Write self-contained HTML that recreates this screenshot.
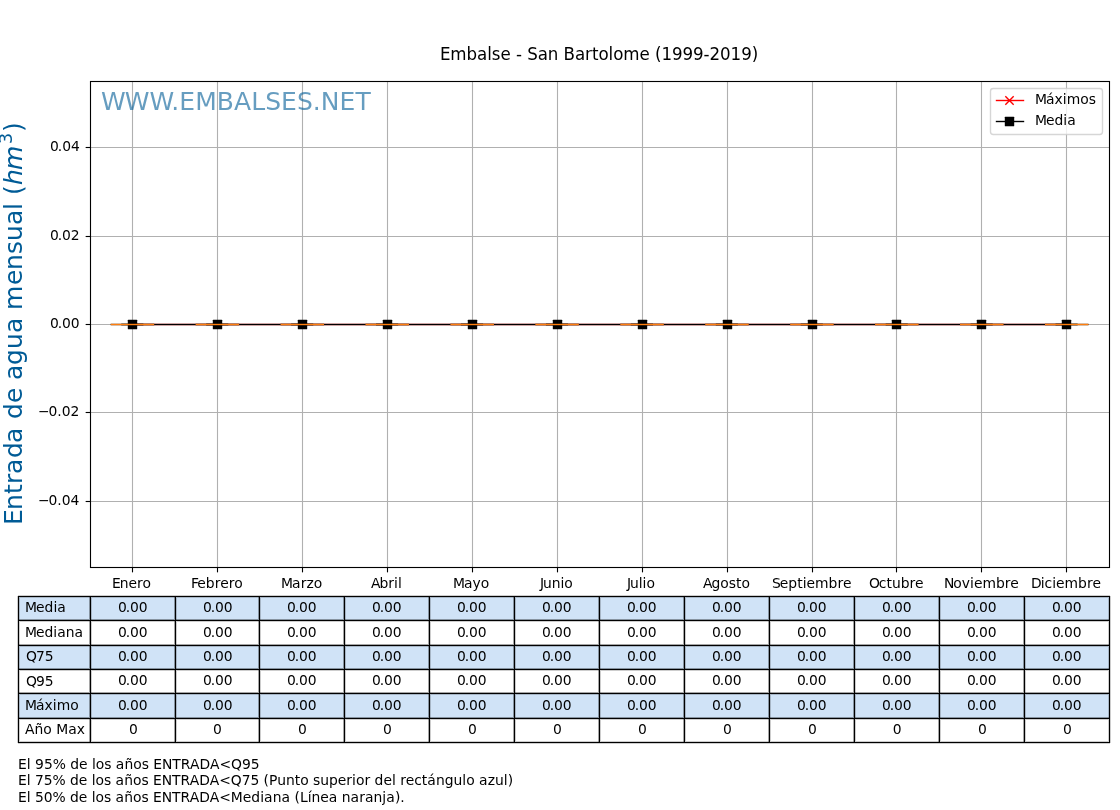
<!DOCTYPE html>
<html lang="es"><head><meta charset="utf-8"><title>Embalse - San Bartolome (1999-2019)</title>
<style>html,body{margin:0;padding:0;background:#fff;overflow:hidden}svg{display:block}text{font-family:"DejaVu Sans","Liberation Sans",sans-serif;fill:#000;white-space:pre}</style>
</head><body>
<svg width="1120" height="810" viewBox="0 0 1120 810">
<rect width="1120" height="810" fill="#fff"/>
<g stroke="#b0b0b0" stroke-width="1.11" fill="none">
<line x1="132.5" y1="81.5" x2="132.5" y2="567.5"/>
<line x1="217.5" y1="81.5" x2="217.5" y2="567.5"/>
<line x1="302.5" y1="81.5" x2="302.5" y2="567.5"/>
<line x1="387.5" y1="81.5" x2="387.5" y2="567.5"/>
<line x1="472.5" y1="81.5" x2="472.5" y2="567.5"/>
<line x1="557.5" y1="81.5" x2="557.5" y2="567.5"/>
<line x1="642.5" y1="81.5" x2="642.5" y2="567.5"/>
<line x1="727.5" y1="81.5" x2="727.5" y2="567.5"/>
<line x1="812.5" y1="81.5" x2="812.5" y2="567.5"/>
<line x1="896.5" y1="81.5" x2="896.5" y2="567.5"/>
<line x1="981.5" y1="81.5" x2="981.5" y2="567.5"/>
<line x1="1066.5" y1="81.5" x2="1066.5" y2="567.5"/>
<line x1="90.5" y1="147.5" x2="1109.5" y2="147.5"/>
<line x1="90.5" y1="236.5" x2="1109.5" y2="236.5"/>
<line x1="90.5" y1="324.5" x2="1109.5" y2="324.5"/>
<line x1="90.5" y1="412.5" x2="1109.5" y2="412.5"/>
<line x1="90.5" y1="501.5" x2="1109.5" y2="501.5"/>
</g>
<g stroke="#000" stroke-width="1.11" fill="none">
<line x1="132.5" y1="567.5" x2="132.5" y2="572.36"/>
<line x1="217.5" y1="567.5" x2="217.5" y2="572.36"/>
<line x1="302.5" y1="567.5" x2="302.5" y2="572.36"/>
<line x1="387.5" y1="567.5" x2="387.5" y2="572.36"/>
<line x1="472.5" y1="567.5" x2="472.5" y2="572.36"/>
<line x1="557.5" y1="567.5" x2="557.5" y2="572.36"/>
<line x1="642.5" y1="567.5" x2="642.5" y2="572.36"/>
<line x1="727.5" y1="567.5" x2="727.5" y2="572.36"/>
<line x1="812.5" y1="567.5" x2="812.5" y2="572.36"/>
<line x1="896.5" y1="567.5" x2="896.5" y2="572.36"/>
<line x1="981.5" y1="567.5" x2="981.5" y2="572.36"/>
<line x1="1066.5" y1="567.5" x2="1066.5" y2="572.36"/>
<line x1="90.5" y1="147.5" x2="85.64" y2="147.5"/>
<line x1="90.5" y1="236.5" x2="85.64" y2="236.5"/>
<line x1="90.5" y1="324.5" x2="85.64" y2="324.5"/>
<line x1="90.5" y1="412.5" x2="85.64" y2="412.5"/>
<line x1="90.5" y1="501.5" x2="85.64" y2="501.5"/>
</g>
<path d="M131.37 323h935.67v1h-935.67zM131.37 325h935.67v1h-935.67z" fill="#f00" fill-opacity="0.195"/>
<rect x="131.37" y="324" width="935.67" height="1" fill="#f00"/>
<path d="M131.37 323h935.67v1h-935.67zM131.37 325h935.67v1h-935.67z" fill="#000" fill-opacity="0.195"/>
<rect x="131.37" y="324" width="935.67" height="1" fill="#000"/>
<rect x="127.80" y="319.80" width="9.4" height="9.4" rx="0.5" fill="#000"/>
<rect x="212.80" y="319.80" width="9.4" height="9.4" rx="0.5" fill="#000"/>
<rect x="297.80" y="319.80" width="9.4" height="9.4" rx="0.5" fill="#000"/>
<rect x="382.80" y="319.80" width="9.4" height="9.4" rx="0.5" fill="#000"/>
<rect x="467.80" y="319.80" width="9.4" height="9.4" rx="0.5" fill="#000"/>
<rect x="552.80" y="319.80" width="9.4" height="9.4" rx="0.5" fill="#000"/>
<rect x="637.80" y="319.80" width="9.4" height="9.4" rx="0.5" fill="#000"/>
<rect x="722.80" y="319.80" width="9.4" height="9.4" rx="0.5" fill="#000"/>
<rect x="807.80" y="319.80" width="9.4" height="9.4" rx="0.5" fill="#000"/>
<rect x="891.80" y="319.80" width="9.4" height="9.4" rx="0.5" fill="#000"/>
<rect x="976.80" y="319.80" width="9.4" height="9.4" rx="0.5" fill="#000"/>
<rect x="1061.80" y="319.80" width="9.4" height="9.4" rx="0.5" fill="#000"/>
<path d="M110.68 323h43.52v1h-43.52zM110.68 325h43.52v1h-43.52z" fill="#000" fill-opacity="0.195"/>
<rect x="110.68" y="324" width="43.52" height="1" fill="#000"/>
<path d="M121.25 323h22.13v1h-22.13zM121.25 325h22.13v1h-22.13z" fill="#000" fill-opacity="0.352"/>
<rect x="121.25" y="324" width="22.13" height="1" fill="#000"/>
<path d="M195.62 323h43.52v1h-43.52zM195.62 325h43.52v1h-43.52z" fill="#000" fill-opacity="0.195"/>
<rect x="195.62" y="324" width="43.52" height="1" fill="#000"/>
<path d="M206.18 323h22.13v1h-22.13zM206.18 325h22.13v1h-22.13z" fill="#000" fill-opacity="0.352"/>
<rect x="206.18" y="324" width="22.13" height="1" fill="#000"/>
<path d="M280.55 323h43.52v1h-43.52zM280.55 325h43.52v1h-43.52z" fill="#000" fill-opacity="0.195"/>
<rect x="280.55" y="324" width="43.52" height="1" fill="#000"/>
<path d="M291.12 323h22.13v1h-22.13zM291.12 325h22.13v1h-22.13z" fill="#000" fill-opacity="0.352"/>
<rect x="291.12" y="324" width="22.13" height="1" fill="#000"/>
<path d="M365.48 323h43.52v1h-43.52zM365.48 325h43.52v1h-43.52z" fill="#000" fill-opacity="0.195"/>
<rect x="365.48" y="324" width="43.52" height="1" fill="#000"/>
<path d="M376.05 323h22.13v1h-22.13zM376.05 325h22.13v1h-22.13z" fill="#000" fill-opacity="0.352"/>
<rect x="376.05" y="324" width="22.13" height="1" fill="#000"/>
<path d="M450.42 323h43.52v1h-43.52zM450.42 325h43.52v1h-43.52z" fill="#000" fill-opacity="0.195"/>
<rect x="450.42" y="324" width="43.52" height="1" fill="#000"/>
<path d="M460.98 323h22.13v1h-22.13zM460.98 325h22.13v1h-22.13z" fill="#000" fill-opacity="0.352"/>
<rect x="460.98" y="324" width="22.13" height="1" fill="#000"/>
<path d="M535.35 323h43.52v1h-43.52zM535.35 325h43.52v1h-43.52z" fill="#000" fill-opacity="0.195"/>
<rect x="535.35" y="324" width="43.52" height="1" fill="#000"/>
<path d="M545.92 323h22.13v1h-22.13zM545.92 325h22.13v1h-22.13z" fill="#000" fill-opacity="0.352"/>
<rect x="545.92" y="324" width="22.13" height="1" fill="#000"/>
<path d="M620.28 323h43.52v1h-43.52zM620.28 325h43.52v1h-43.52z" fill="#000" fill-opacity="0.195"/>
<rect x="620.28" y="324" width="43.52" height="1" fill="#000"/>
<path d="M630.85 323h22.13v1h-22.13zM630.85 325h22.13v1h-22.13z" fill="#000" fill-opacity="0.352"/>
<rect x="630.85" y="324" width="22.13" height="1" fill="#000"/>
<path d="M705.22 323h43.52v1h-43.52zM705.22 325h43.52v1h-43.52z" fill="#000" fill-opacity="0.195"/>
<rect x="705.22" y="324" width="43.52" height="1" fill="#000"/>
<path d="M715.78 323h22.13v1h-22.13zM715.78 325h22.13v1h-22.13z" fill="#000" fill-opacity="0.352"/>
<rect x="715.78" y="324" width="22.13" height="1" fill="#000"/>
<path d="M790.15 323h43.52v1h-43.52zM790.15 325h43.52v1h-43.52z" fill="#000" fill-opacity="0.195"/>
<rect x="790.15" y="324" width="43.52" height="1" fill="#000"/>
<path d="M800.72 323h22.13v1h-22.13zM800.72 325h22.13v1h-22.13z" fill="#000" fill-opacity="0.352"/>
<rect x="800.72" y="324" width="22.13" height="1" fill="#000"/>
<path d="M875.08 323h43.52v1h-43.52zM875.08 325h43.52v1h-43.52z" fill="#000" fill-opacity="0.195"/>
<rect x="875.08" y="324" width="43.52" height="1" fill="#000"/>
<path d="M885.65 323h22.13v1h-22.13zM885.65 325h22.13v1h-22.13z" fill="#000" fill-opacity="0.352"/>
<rect x="885.65" y="324" width="22.13" height="1" fill="#000"/>
<path d="M960.02 323h43.52v1h-43.52zM960.02 325h43.52v1h-43.52z" fill="#000" fill-opacity="0.195"/>
<rect x="960.02" y="324" width="43.52" height="1" fill="#000"/>
<path d="M970.58 323h22.13v1h-22.13zM970.58 325h22.13v1h-22.13z" fill="#000" fill-opacity="0.352"/>
<rect x="970.58" y="324" width="22.13" height="1" fill="#000"/>
<path d="M1044.95 323h43.52v1h-43.52zM1044.95 325h43.52v1h-43.52z" fill="#000" fill-opacity="0.195"/>
<rect x="1044.95" y="324" width="43.52" height="1" fill="#000"/>
<path d="M1055.52 323h22.13v1h-22.13zM1055.52 325h22.13v1h-22.13z" fill="#000" fill-opacity="0.352"/>
<rect x="1055.52" y="324" width="22.13" height="1" fill="#000"/>
<path d="M110.68 323h43.52v1h-43.52zM110.68 325h43.52v1h-43.52z" fill="#ff7f0e" fill-opacity="0.195"/>
<rect x="110.68" y="324" width="43.52" height="1" fill="#ff7f0e"/>
<path d="M195.62 323h43.52v1h-43.52zM195.62 325h43.52v1h-43.52z" fill="#ff7f0e" fill-opacity="0.195"/>
<rect x="195.62" y="324" width="43.52" height="1" fill="#ff7f0e"/>
<path d="M280.55 323h43.52v1h-43.52zM280.55 325h43.52v1h-43.52z" fill="#ff7f0e" fill-opacity="0.195"/>
<rect x="280.55" y="324" width="43.52" height="1" fill="#ff7f0e"/>
<path d="M365.48 323h43.52v1h-43.52zM365.48 325h43.52v1h-43.52z" fill="#ff7f0e" fill-opacity="0.195"/>
<rect x="365.48" y="324" width="43.52" height="1" fill="#ff7f0e"/>
<path d="M450.42 323h43.52v1h-43.52zM450.42 325h43.52v1h-43.52z" fill="#ff7f0e" fill-opacity="0.195"/>
<rect x="450.42" y="324" width="43.52" height="1" fill="#ff7f0e"/>
<path d="M535.35 323h43.52v1h-43.52zM535.35 325h43.52v1h-43.52z" fill="#ff7f0e" fill-opacity="0.195"/>
<rect x="535.35" y="324" width="43.52" height="1" fill="#ff7f0e"/>
<path d="M620.28 323h43.52v1h-43.52zM620.28 325h43.52v1h-43.52z" fill="#ff7f0e" fill-opacity="0.195"/>
<rect x="620.28" y="324" width="43.52" height="1" fill="#ff7f0e"/>
<path d="M705.22 323h43.52v1h-43.52zM705.22 325h43.52v1h-43.52z" fill="#ff7f0e" fill-opacity="0.195"/>
<rect x="705.22" y="324" width="43.52" height="1" fill="#ff7f0e"/>
<path d="M790.15 323h43.52v1h-43.52zM790.15 325h43.52v1h-43.52z" fill="#ff7f0e" fill-opacity="0.195"/>
<rect x="790.15" y="324" width="43.52" height="1" fill="#ff7f0e"/>
<path d="M875.08 323h43.52v1h-43.52zM875.08 325h43.52v1h-43.52z" fill="#ff7f0e" fill-opacity="0.195"/>
<rect x="875.08" y="324" width="43.52" height="1" fill="#ff7f0e"/>
<path d="M960.02 323h43.52v1h-43.52zM960.02 325h43.52v1h-43.52z" fill="#ff7f0e" fill-opacity="0.195"/>
<rect x="960.02" y="324" width="43.52" height="1" fill="#ff7f0e"/>
<path d="M1044.95 323h43.52v1h-43.52zM1044.95 325h43.52v1h-43.52z" fill="#ff7f0e" fill-opacity="0.195"/>
<rect x="1044.95" y="324" width="43.52" height="1" fill="#ff7f0e"/>
<rect x="90.5" y="81.5" width="1019.0" height="486.0" fill="none" stroke="#000" stroke-width="1.11"/>
<text x="100.98 124.73 149.48 171.36 179.36 195.23 216.86 234.11 251.23 265.23 281.11 296.98 312.86 320.86 339.61 355.48" y="110" font-size="25" style="fill:#005b96;fill-opacity:0.6;">WWW.EMBALSES.NET</text>
<text x="439.95 450.32 466.57 477.07 487.2 491.82 500.57 510.82 516.07 521.95 527.2 537.7 547.82 558.32 563.57 574.95 585.07 591.95 598.45 608.57 613.2 623.32 639.57 649.82 655.07 661.45 672.07 682.57 693.07 703.57 709.45 720.07 730.57 741.2 751.7" y="60" font-size="16.667" transform="matrix(1 0 0 1.07 0 -4.200)">Embalse - San Bartolome (1999-2019)</text>
<text transform="translate(21.70 526.00) rotate(-90)" x="1 16 32 42 52 68 83 99 107 123 138 146 161 177 193 208 216 241 256 272 285 301 316 323 331 341 356 382 394" y="0" font-size="25" style="fill:#005b96">Entrada de agua mensual (<tspan font-style="italic">hm</tspan><tspan font-size="17.5" dy="-9.80">3</tspan><tspan dy="9.80">)</tspan></text>
<text x="50.01 57.76 62.13 70.88" y="151" font-size="13.889">0.04</text>
<text x="49.98 57.73 62.1 70.85" y="240" font-size="13.889">0.02</text>
<text x="49.95 57.7 62.07 70.82" y="328" font-size="13.889">0.00</text>
<text x="37.9 48.52 57.27 61.65 70.4" y="416" font-size="13.889">−0.02</text>
<text x="37.95 48.57 57.32 61.7 70.45" y="505" font-size="13.889">−0.04</text>
<text x="111.96 119.71 128.46 136.96 142.46" y="588" font-size="13.889">Enero</text>
<text x="191.01 197.26 205.76 214.64 220.14 228.64 234.14" y="588" font-size="13.889">Febrero</text>
<text x="281.02 292.02 300.65 306.4 313.77" y="588" font-size="13.889">Marzo</text>
<text x="370.98 379.48 388.35 394.1 397.98" y="588" font-size="13.889">Abril</text>
<text x="452.98 463.98 472.6 480.85" y="588" font-size="13.889">Mayo</text>
<text x="539.97 542.97 551.72 560.47 564.34" y="588" font-size="13.889">Junio</text>
<text x="626.98 629.98 638.73 642.61 646.48" y="588" font-size="13.889">Julio</text>
<text x="702.98 711.48 720.35 728.85 735.98 741.48" y="588" font-size="13.889">Agosto</text>
<text x="772.01 779.76 788.26 797.13 802.63 806.51 815.01 828.51 837.38 842.88" y="588" font-size="13.889">Septiembre</text>
<text x="869 878.87 886.5 892 900.75 909.62 915.12" y="588" font-size="13.889">Octubre</text>
<text x="943.97 953.34 961.84 970.09 973.97 982.47 995.97 1004.84 1010.34" y="588" font-size="13.889">Noviembre</text>
<text x="1030.95 1040.7 1044.57 1052.2 1056.07 1064.57 1078.07 1086.95 1092.45" y="588" font-size="13.889">Diciembre</text>
<rect x="990.5" y="88.5" width="112" height="46" rx="2.8" fill="#fff" fill-opacity="0.8" stroke="#ccc" stroke-opacity="0.8" stroke-width="1.39"/>
<path d="M995.80 99h28.40v1h-28.40zM995.80 101h28.40v1h-28.40z" fill="#f00" fill-opacity="0.195"/>
<rect x="995.80" y="100" width="28.40" height="1" fill="#f00"/>
<path d="M1005.33 96.33L1013.67 104.67M1005.33 104.67L1013.67 96.33" stroke="#f00" stroke-width="1.39" fill="none"/>
<text x="1034.98 1045.98 1054.61 1062.86 1066.73 1080.23 1088.73" y="104" font-size="13.889">Máximos</text>
<path d="M995.80 120h28.40v1h-28.40zM995.80 122h28.40v1h-28.40z" fill="#000" fill-opacity="0.195"/>
<rect x="995.80" y="121" width="28.40" height="1" fill="#000"/>
<rect x="1004.8" y="116.8" width="9.4" height="9.4" rx="0.5" fill="#000"/>
<text x="1034.99 1045.99 1054.49 1063.36 1067.24" y="125" font-size="13.889">Media</text>
<rect x="18" y="596" width="1092" height="24" fill="#d0e3f7"/>
<rect x="18" y="645" width="1092" height="24" fill="#d0e3f7"/>
<rect x="18" y="693" width="1092" height="25" fill="#d0e3f7"/>
<path d="M18 595h1092v1h-1092zM18 743h1092v1h-1092zM18 741h1092v1h-1092zM18 597h1092v1h-1092zM18 621h1092v1h-1092zM18 646h1092v1h-1092zM18 670h1092v1h-1092zM18 694h1092v1h-1092zM18 719h1092v1h-1092zM17 596h1v147h-1zM1110 596h1v147h-1zM1108 596h1v147h-1zM19 596h1v147h-1zM91 596h1v147h-1zM176 596h1v147h-1zM260 596h1v147h-1zM345 596h1v147h-1zM430 596h1v147h-1zM515 596h1v147h-1zM600 596h1v147h-1zM685 596h1v147h-1zM770 596h1v147h-1zM855 596h1v147h-1zM940 596h1v147h-1zM1025 596h1v147h-1z" fill="#000" fill-opacity="0.195"/>
<path d="M18 619h1092v1h-1092zM18 644h1092v1h-1092zM18 668h1092v1h-1092zM18 692h1092v1h-1092zM18 717h1092v1h-1092zM89 596h1v147h-1zM174 596h1v147h-1zM258 596h1v147h-1zM343 596h1v147h-1zM428 596h1v147h-1zM513 596h1v147h-1zM598 596h1v147h-1zM683 596h1v147h-1zM768 596h1v147h-1zM853 596h1v147h-1zM938 596h1v147h-1zM1023 596h1v147h-1z" fill="#000" fill-opacity="0.352"/>
<path d="M18 596h1092v1h-1092zM18 620h1092v1h-1092zM18 645h1092v1h-1092zM18 669h1092v1h-1092zM18 693h1092v1h-1092zM18 718h1092v1h-1092zM18 742h1092v1h-1092zM18 596h1v147h-1zM90 596h1v147h-1zM175 596h1v147h-1zM259 596h1v147h-1zM344 596h1v147h-1zM429 596h1v147h-1zM514 596h1v147h-1zM599 596h1v147h-1zM684 596h1v147h-1zM769 596h1v147h-1zM854 596h1v147h-1zM939 596h1v147h-1zM1024 596h1v147h-1zM1109 596h1v147h-1z" fill="#000"/>
<text x="25.01 36.01 44.51 53.39 57.26" y="612" font-size="13.889">Media</text>
<text x="117.94 125.69 130.06 138.81" y="612" font-size="13.889">0.00</text>
<text x="202.89 210.64 215.02 223.77" y="612" font-size="13.889">0.00</text>
<text x="286.98 294.73 299.1 307.85" y="612" font-size="13.889">0.00</text>
<text x="371.93 379.68 384.05 392.8" y="612" font-size="13.889">0.00</text>
<text x="456.93 464.68 469.06 477.81" y="612" font-size="13.889">0.00</text>
<text x="541.98 549.73 554.1 562.85" y="612" font-size="13.889">0.00</text>
<text x="626.95 634.7 639.08 647.83" y="612" font-size="13.889">0.00</text>
<text x="711.91 719.66 724.03 732.78" y="612" font-size="13.889">0.00</text>
<text x="796.93 804.68 809.05 817.8" y="612" font-size="13.889">0.00</text>
<text x="881.93 889.68 894.06 902.81" y="612" font-size="13.889">0.00</text>
<text x="966.92 974.67 979.04 987.79" y="612" font-size="13.889">0.00</text>
<text x="1051.92 1059.67 1064.04 1072.79" y="612" font-size="13.889">0.00</text>
<text x="25 36 44.5 53.37 57.25 65.87 74.62" y="637" font-size="13.889">Mediana</text>
<text x="117.97 125.72 130.09 138.84" y="637" font-size="13.889">0.00</text>
<text x="202.92 210.67 215.05 223.8" y="637" font-size="13.889">0.00</text>
<text x="286.91 294.66 299.03 307.78" y="637" font-size="13.889">0.00</text>
<text x="371.95 379.7 384.08 392.83" y="637" font-size="13.889">0.00</text>
<text x="456.96 464.71 469.08 477.83" y="637" font-size="13.889">0.00</text>
<text x="541.9 549.65 554.03 562.78" y="637" font-size="13.889">0.00</text>
<text x="626.98 634.73 639.11 647.86" y="637" font-size="13.889">0.00</text>
<text x="711.94 719.69 724.06 732.81" y="637" font-size="13.889">0.00</text>
<text x="796.95 804.7 809.08 817.83" y="637" font-size="13.889">0.00</text>
<text x="881.96 889.71 894.09 902.84" y="637" font-size="13.889">0.00</text>
<text x="966.95 974.7 979.07 987.82" y="637" font-size="13.889">0.00</text>
<text x="1051.94 1059.69 1064.06 1072.81" y="637" font-size="13.889">0.00</text>
<text x="26.02 35.89 44.64" y="661" font-size="13.889">Q75</text>
<text x="117.94 125.69 130.06 138.81" y="661" font-size="13.889">0.00</text>
<text x="202.89 210.64 215.02 223.77" y="661" font-size="13.889">0.00</text>
<text x="286.98 294.73 299.1 307.85" y="661" font-size="13.889">0.00</text>
<text x="371.93 379.68 384.05 392.8" y="661" font-size="13.889">0.00</text>
<text x="456.93 464.68 469.06 477.81" y="661" font-size="13.889">0.00</text>
<text x="541.98 549.73 554.1 562.85" y="661" font-size="13.889">0.00</text>
<text x="626.95 634.7 639.08 647.83" y="661" font-size="13.889">0.00</text>
<text x="711.91 719.66 724.03 732.78" y="661" font-size="13.889">0.00</text>
<text x="796.93 804.68 809.05 817.8" y="661" font-size="13.889">0.00</text>
<text x="881.93 889.68 894.06 902.81" y="661" font-size="13.889">0.00</text>
<text x="966.92 974.67 979.04 987.79" y="661" font-size="13.889">0.00</text>
<text x="1051.92 1059.67 1064.04 1072.79" y="661" font-size="13.889">0.00</text>
<text x="26 35.88 44.75" y="686" font-size="13.889">Q95</text>
<text x="117.97 125.72 130.09 138.84" y="685" font-size="13.889">0.00</text>
<text x="202.92 210.67 215.05 223.8" y="685" font-size="13.889">0.00</text>
<text x="286.91 294.66 299.03 307.78" y="685" font-size="13.889">0.00</text>
<text x="371.95 379.7 384.08 392.83" y="685" font-size="13.889">0.00</text>
<text x="456.96 464.71 469.08 477.83" y="685" font-size="13.889">0.00</text>
<text x="541.9 549.65 554.03 562.78" y="685" font-size="13.889">0.00</text>
<text x="626.98 634.73 639.11 647.86" y="685" font-size="13.889">0.00</text>
<text x="711.94 719.69 724.06 732.81" y="685" font-size="13.889">0.00</text>
<text x="796.95 804.7 809.08 817.83" y="685" font-size="13.889">0.00</text>
<text x="881.96 889.71 894.09 902.84" y="685" font-size="13.889">0.00</text>
<text x="966.95 974.7 979.07 987.82" y="685" font-size="13.889">0.00</text>
<text x="1051.94 1059.69 1064.06 1072.81" y="685" font-size="13.889">0.00</text>
<text x="24.99 35.99 44.61 52.86 56.74 70.24" y="710" font-size="13.889">Máximo</text>
<text x="117.94 125.69 130.06 138.81" y="710" font-size="13.889">0.00</text>
<text x="202.89 210.64 215.02 223.77" y="710" font-size="13.889">0.00</text>
<text x="286.98 294.73 299.1 307.85" y="710" font-size="13.889">0.00</text>
<text x="371.93 379.68 384.05 392.8" y="710" font-size="13.889">0.00</text>
<text x="456.93 464.68 469.06 477.81" y="710" font-size="13.889">0.00</text>
<text x="541.98 549.73 554.1 562.85" y="710" font-size="13.889">0.00</text>
<text x="626.95 634.7 639.08 647.83" y="710" font-size="13.889">0.00</text>
<text x="711.91 719.66 724.03 732.78" y="710" font-size="13.889">0.00</text>
<text x="796.93 804.68 809.05 817.8" y="710" font-size="13.889">0.00</text>
<text x="881.93 889.68 894.06 902.81" y="710" font-size="13.889">0.00</text>
<text x="966.92 974.67 979.04 987.79" y="710" font-size="13.889">0.00</text>
<text x="1051.92 1059.67 1064.04 1072.79" y="710" font-size="13.889">0.00</text>
<text x="25.01 34.51 43.26 51.76 56.13 68.13 76.76" y="734" font-size="13.889">Año Max</text>
<text x="128.93" y="734" font-size="13.889">0</text>
<text x="212.95" y="734" font-size="13.889">0</text>
<text x="297.91" y="734" font-size="13.889">0</text>
<text x="382.9" y="734" font-size="13.889">0</text>
<text x="467.93" y="734" font-size="13.889">0</text>
<text x="552.91" y="734" font-size="13.889">0</text>
<text x="637.9" y="734" font-size="13.889">0</text>
<text x="722.93" y="734" font-size="13.889">0</text>
<text x="807.96" y="734" font-size="13.889">0</text>
<text x="892.87" y="734" font-size="13.889">0</text>
<text x="977.96" y="734" font-size="13.889">0</text>
<text x="1062.98" y="734" font-size="13.889">0</text>
<text x="18.04 26.79 30.66 35.04 43.91 52.66 65.79 70.16 79.04 87.54 91.91 95.79 104.29 111.41 115.79 124.41 133.16 141.66 148.79 153.16 161.91 172.29 180.79 189.91 199.41 209.91 219.41 231.04 241.91 250.79" y="769" font-size="13.889">El 95% de los años ENTRADA&lt;Q95</text>
<text x="18 26.75 30.62 35 43.75 52.5 65.62 70 78.87 87.37 91.75 95.62 104.12 111.25 115.62 124.25 133 141.5 148.62 153 161.75 172.12 180.62 189.75 199.25 209.75 219.25 230.87 241.75 250.5 259.25 263.62 269.12 277.25 286 294.75 300.25 308.75 313.12 320.25 329 337.87 346.37 352.12 356 364.5 370.25 374.62 383.5 392 395.87 400.25 405.75 414.25 421.87 427.37 436 444.75 453.62 462.37 466.25 474.75 479.12 487.75 495.12 503.87 507.75" y="785" font-size="13.889">El 75% de los años ENTRADA&lt;Q75 (Punto superior del rectángulo azul)</text>
<text x="17.97 26.72 30.6 34.97 43.72 52.47 65.6 69.97 78.85 87.35 91.72 95.6 104.1 111.22 115.6 124.22 132.97 141.47 148.6 152.97 161.72 172.1 180.6 189.72 199.22 209.72 219.22 230.85 242.85 251.35 260.22 264.1 272.72 281.47 290.1 294.47 299.97 307.72 311.6 320.35 328.85 337.47 341.85 350.6 359.22 364.97 373.6 382.35 386.35 394.97 400.35" y="802" font-size="13.889">El 50% de los años ENTRADA&lt;Mediana (Línea naranja).</text>
</svg></body></html>
